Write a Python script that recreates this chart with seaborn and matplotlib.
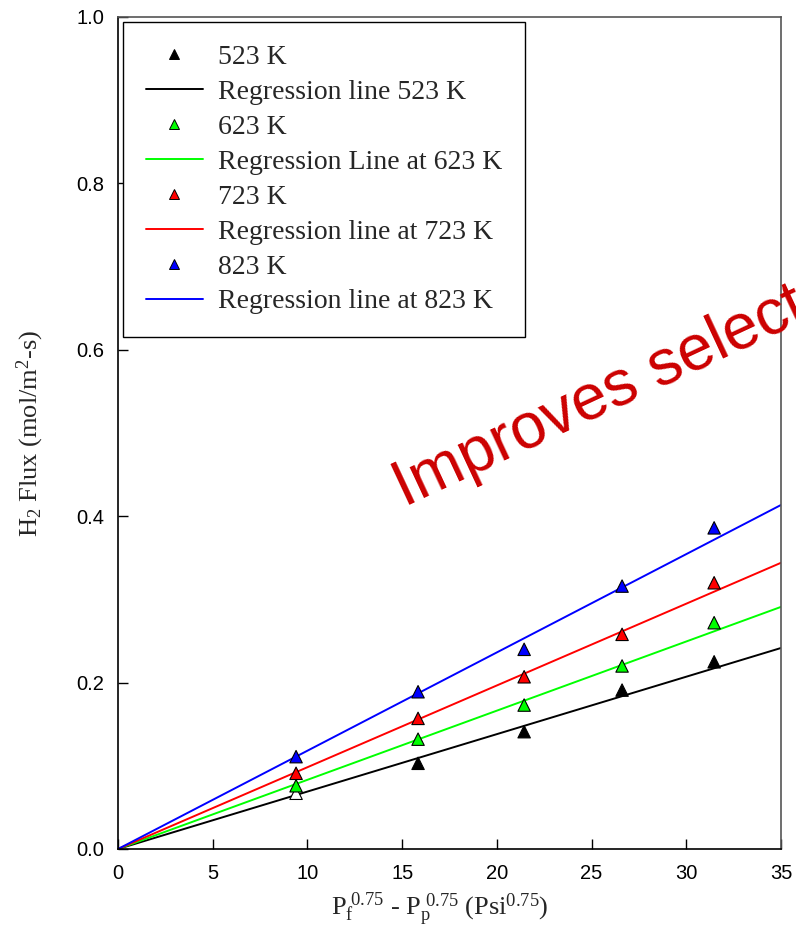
import numpy as np
import pandas as pd
import seaborn as sns
import matplotlib
matplotlib.use("Agg")
import matplotlib.pyplot as plt
from matplotlib.lines import Line2D

# ---- data ----
temps = ["523 K", "623 K", "723 K", "823 K"]
line_labels = ["Regression line 523 K", "Regression Line at 623 K",
               "Regression line at 723 K", "Regression line at 823 K"]
x_vals = [9.40, 15.84, 21.44, 26.61, 31.47]
flux_523 = [0.067, 0.103, 0.141, 0.191, 0.225]
flux_623 = [0.076, 0.132, 0.173, 0.220, 0.272]
flux_723 = [0.091, 0.157, 0.207, 0.258, 0.320]
flux_823 = [0.111, 0.189, 0.240, 0.316, 0.386]
# regression lines (through origin): value at x = 0 and x = 35
line_x = [0, 35]
line_end = [0.2416, 0.291, 0.344, 0.4135]
colors = ["#000000", "#00ff00", "#ff0000", "#0000ff"]

sns.set_style("ticks")
plt.rcParams["font.family"] = ["Liberation Sans", "DejaVu Sans"]
plt.rcParams["mathtext.fontset"] = "custom"
plt.rcParams["mathtext.rm"] = "Liberation Serif"
plt.rcParams["mathtext.it"] = "Liberation Serif"
plt.rcParams["mathtext.bf"] = "Liberation Serif:bold"

fig = plt.figure(figsize=(7.96, 9.49), dpi=100)
ax = fig.add_axes([118/796, 1-849/949, (781-118)/796, (849-17)/949])

all_flux = [flux_523, flux_623, flux_723, flux_823]
rows = []
for t, f in zip(temps, all_flux):
    for xv, yv in zip(x_vals, f):
        rows.append({"x": xv, "y": yv, "T": t})
pts = pd.DataFrame(rows)

lrows = []
for t, e in zip(temps, line_end):
    slope = e / line_x[1]
    for xv in line_x:
        lrows.append({"x": xv, "y": slope * xv, "T": t})
lines = pd.DataFrame(lrows)

pal = dict(zip(temps, colors))
sns.lineplot(data=lines, x="x", y="y", hue="T", palette=pal, lw=1.4,
             ax=ax, legend=False, zorder=2)
for t, c in zip(temps, colors):
    sub = pts[pts["T"] == t]
    fc = [c] * len(sub)
    if t == "523 K":
        fc[0] = "white"
    ax.scatter(sub["x"], sub["y"], marker="^", s=80, c=fc,
               edgecolors="black", linewidths=0.8, zorder=3)

ax.set_xlim(0, 35)
ax.set_ylim(0, 1.0)
ax.set_xticks(np.arange(0, 36, 5))
ax.set_yticks(np.arange(0, 1.01, 0.2))
ax.set_yticklabels([f"{v:.1f}" for v in np.arange(0, 1.01, 0.2)])
ax.tick_params(direction="in", length=7, width=1, labelsize=14.5, colors="black")
ax.tick_params(axis="x", pad=11)
ax.tick_params(axis="y", pad=10)
for s in ["left", "bottom"]:
    ax.spines[s].set_color("black")
    ax.spines[s].set_linewidth(1.2)
for s in ["top", "right"]:
    ax.spines[s].set_visible(True)
    ax.spines[s].set_color("#555555")
    ax.spines[s].set_linewidth(1.2)

ax.set_xlabel(r"P$_\mathrm{f}^{\ 0.75}$ - P$_\mathrm{p}^{\ 0.75}$ (Psi$^{0.75}$)",
              fontsize=19, family="Liberation Serif", va="top")
ax.xaxis.set_label_coords(0.486, -0.0495)
ax.set_ylabel(r"H$_2$ Flux (mol/m$^2$-s)", fontsize=19, family="Liberation Serif",
              labelpad=22)

handles, labels = [], []
for t, ll, c in zip(temps, line_labels, colors):
    handles.append(Line2D([], [], ls="none", marker="^", markersize=7,
                          markerfacecolor=c, markeredgecolor="black", markeredgewidth=0.7))
    labels.append(t)
    handles.append(Line2D([], [], color=c, lw=1.4))
    labels.append(ll)
leg = ax.legend(handles, labels, loc="upper left", bbox_to_anchor=(5/663, 1-5/832),
                borderaxespad=0, fancybox=False, framealpha=1, edgecolor="black",
                prop={"family": "Liberation Serif", "size": 20}, handlelength=2.05,
                handletextpad=0.54, labelspacing=0.34, borderpad=0.82)
leg.get_frame().set_linewidth(1.0)

fig.text(405/796, 1-507/949, "Improves select", rotation=25, rotation_mode="anchor",
         ha="left", va="baseline", color="#cc0000", fontsize=46, family="Liberation Sans")

fig.savefig("out.png", dpi=100)
